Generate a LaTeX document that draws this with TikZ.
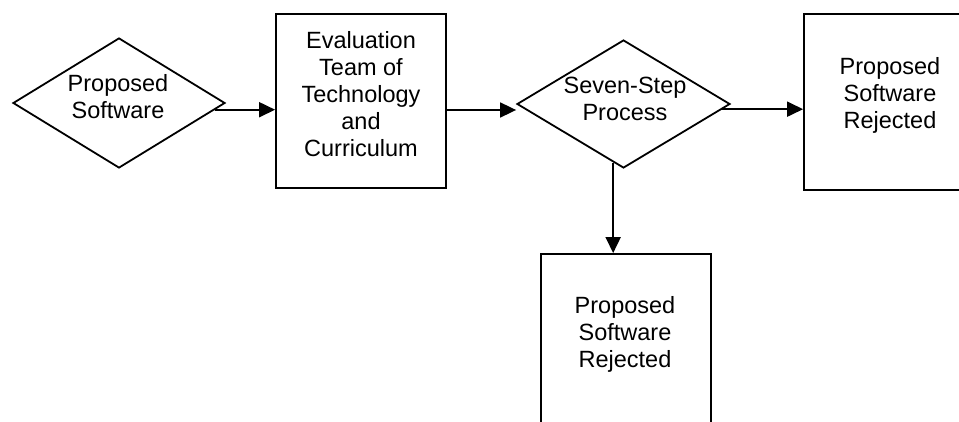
\documentclass[tikz,border=0pt]{standalone}
\usepackage{fontspec}
\setmainfont{Liberation Sans}
\usetikzlibrary{shapes.geometric,arrows.meta}
\begin{document}
\begin{tikzpicture}[x=1pt,y=-1pt,
  line width=1.8pt,
  decision/.style={draw,diamond,inner sep=0pt,minimum width=212pt,minimum height=130pt},
  stepbox/.style={draw,rectangle,inner sep=0pt,minimum width=170pt,minimum height=176pt},
  label text/.style={align=center,inner sep=0pt,font=\fontsize{23.5}{27}\selectfont},
  arr/.style={-{Triangle[length=16pt,width=15pt]}}
]
\clip (0,0) rectangle (959,422);
\fill[white] (0,0) rectangle (959,422);

% shapes
\node[decision] (d1) at (119,103) {};
\node[stepbox,minimum height=174pt] (box1) at (361,101) {};
\node[decision,minimum width=213pt,minimum height=128pt] (d2) at (623.5,104) {};
\node[stepbox] (rej1) at (889,102) {};
\node[stepbox] (rej2) at (626,342) {};

% texts
\node[label text] (t1) at (118,97) {Proposed\\Software};
\node[label text] (t2) at (361,94) {Evaluation\\Team of\\Technology\\and\\Curriculum};
\node[label text] (t3) at (625,99) {Seven-Step\\Process};
\node[label text] (t4) at (890,95) {Proposed\\Software\\Rejected};
\node[label text] (t5) at (625,334) {Proposed\\Software\\Rejected};

% connectors
\draw[arr] (d1.-4.2) -- (d1.-4.2 -| box1.west);
\draw[arr] ([yshift=-9pt]box1.east) -- ([yshift=-9pt]box1.east -| d2.west);
\draw[arr] (d2.-3.8) -- (d2.-3.8 -| rej1.west);
\draw[arr] (d2.-100.3) -- (d2.-100.3 |- rej2.north);
\end{tikzpicture}
\end{document}
